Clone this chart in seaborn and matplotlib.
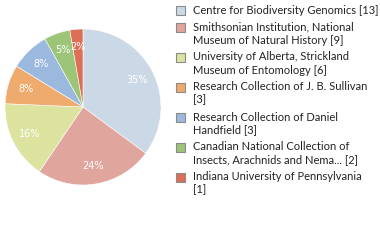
import matplotlib
matplotlib.use("Agg")
import matplotlib.pyplot as plt
from matplotlib.patches import Rectangle
import seaborn as sns

# data
institutions = [
    "Centre for Biodiversity Genomics [13]",
    "Smithsonian Institution, National\nMuseum of Natural History [9]",
    "University of Alberta, Strickland\nMuseum of Entomology [6]",
    "Research Collection of J. B. Sullivan\n[3]",
    "Research Collection of Daniel\nHandfield [3]",
    "Canadian National Collection of\nInsects, Arachnids and Nema... [2]",
    "Indiana University of Pennsylvania\n[1]",
]
counts = [13, 9, 6, 3, 3, 2, 1]
hex_colors = ["#cbd9e7", "#e0a59d", "#dce39f", "#efab6e", "#9bb9df", "#9cc578", "#dd6f57"]

sns.set_style("white")
plt.rcParams["font.family"] = ["Lato", "DejaVu Sans"]
colors = sns.color_palette(hex_colors)

W, H = 380, 240
fig = plt.figure(figsize=(W / 100, H / 100), dpi=100)
fig.patch.set_facecolor("white")

# pie: centre (83,107) radius 78 px
cx, cy, r = 83, 107, 78
ax = fig.add_axes([(cx - r) / W, (H - cy - r) / H, 2 * r / W, 2 * r / H])
wedges, texts, autotexts = ax.pie(
    counts, colors=colors, startangle=90, counterclock=False,
    autopct=lambda p: f"{int(p)}%", pctdistance=0.77,
    wedgeprops=dict(edgecolor="white", linewidth=0.4),
    textprops=dict(color="white", fontsize=7, family=["DejaVu Sans"]),
)
ax.set_xlim(-1, 1)
ax.set_ylim(-1, 1)
ax.set_aspect("equal")
ax.axis("off")

# legend drawn by hand so the square sits on the first line
top = 5
line_h = 13
for label, col in zip(institutions, colors):
    lines = label.split("\n")
    fig.add_artist(Rectangle((176 / W, (H - top - 10) / H), 9 / W, 9 / H,
                             transform=fig.transFigure, facecolor=col,
                             edgecolor="#8a8a8a", linewidth=0.8))
    for i, ln in enumerate(lines):
        fig.text(193 / W, (H - top - 5 - i * line_h) / H, ln,
                 va="center", ha="left", fontsize=8, color="#222222")
    top += len(lines) * line_h + 4

plt.savefig("out.png", dpi=100, facecolor="white")
